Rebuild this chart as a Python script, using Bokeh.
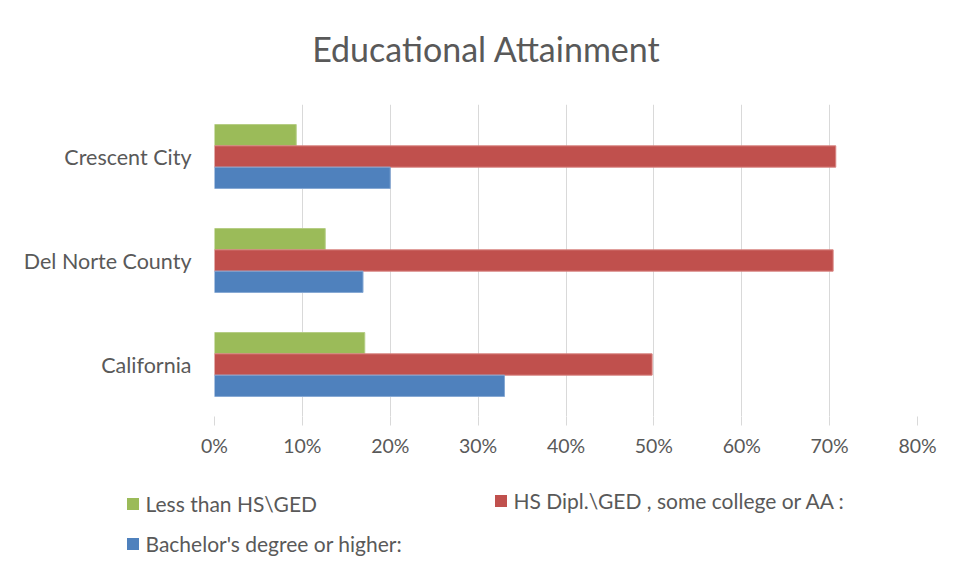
from bokeh.plotting import figure
from bokeh.models import (ColumnDataSource, FactorRange, Range1d, FixedTicker,
                          NumeralTickFormatter, Legend, LegendItem, Label)
from bokeh.layouts import column
from bokeh.transform import dodge
from bokeh.embed import file_html
from bokeh.resources import INLINE

# ---- data ----
places = ["California", "Del Norte County", "Crescent City"]
less_than_hs = [0.171, 0.126, 0.093]
hs_some_college = [0.498, 0.704, 0.707]
bachelors = [0.330, 0.169, 0.200]
series_names = ["Less than HS\\GED",
                "HS Dipl.\\GED , some college or AA :",
                "Bachelor's degree or higher:"]
x_ticks = [0, 0.1, 0.2, 0.3, 0.4, 0.5, 0.6, 0.7, 0.8]
chart_title = "Educational Attainment"

GREEN = "#9BBB59"
RED = "#C0504D"
BLUE = "#4F81BD"
TXT = "#595959"
GRID = "#D9D9D9"
FONT = "Lato"

W = 953


def strip(height):
    s = figure(width=W, height=height, output_backend="svg", toolbar_location=None,
               x_range=Range1d(0, 1), y_range=Range1d(0, 1),
               x_axis_location=None, y_axis_location=None,
               min_border_left=0, min_border_right=0, min_border_top=0, min_border_bottom=0)
    s.frame_align = False
    s.outline_line_color = None
    s.grid.grid_line_color = None
    s.border_fill_color = "white"
    return s


# ---- title strip ----
ts = strip(104)
ts.add_layout(Label(x=486, y=56, x_units="screen", y_units="screen", text=chart_title,
                    text_font=FONT, text_font_size="34px", text_color=TXT,
                    text_align="center", text_baseline="middle"))

# ---- main chart ----
src = ColumnDataSource(dict(place=places, a=less_than_hs, b=hs_some_college, c=bachelors))

p = figure(width=W, height=366, output_backend="svg", toolbar_location=None,
           y_range=FactorRange(factors=places, range_padding=0),
           x_range=Range1d(0, 0.8),
           min_border_left=214, min_border_right=36, min_border_top=0, min_border_bottom=54)
p.frame_align = False
p.outline_line_color = None
p.background_fill_color = "white"
p.border_fill_color = "white"

bh = 0.205
r_a = p.hbar(y=dodge("place", bh, range=p.y_range), right="a", left=0, height=bh,
             source=src, fill_color=GREEN, line_color="#B5CD85", line_width=1)
r_b = p.hbar(y=dodge("place", 0, range=p.y_range), right="b", left=0, height=bh,
             source=src, fill_color=RED, line_color="#D88582", line_width=1)
r_c = p.hbar(y=dodge("place", -bh, range=p.y_range), right="c", left=0, height=bh,
             source=src, fill_color=BLUE, line_color="#86A8D4", line_width=1)

p.xaxis.ticker = FixedTicker(ticks=x_ticks)
p.xaxis.formatter = NumeralTickFormatter(format="0%")
p.xaxis.axis_line_color = None
p.xaxis.major_tick_line_color = GRID
p.xaxis.major_tick_out = 9
p.xaxis.major_tick_in = 0
p.xaxis.minor_tick_line_color = None
p.xaxis.major_label_text_font = FONT
p.xaxis.major_label_text_font_size = "19.5px"
p.xaxis.major_label_text_color = TXT
p.xaxis.major_label_standoff = 8

p.yaxis.axis_line_color = None
p.yaxis.major_tick_line_color = None
p.yaxis.minor_tick_line_color = None
p.yaxis.major_label_text_font = FONT
p.yaxis.major_label_text_font_size = "21.5px"
p.yaxis.major_label_text_color = TXT
p.yaxis.major_label_standoff = 17

p.xgrid.grid_line_color = GRID
p.xgrid.ticker = FixedTicker(ticks=x_ticks)
p.ygrid.grid_line_color = None

# ---- legend strip below the chart ----
lf = strip(95)

# legend swatches (off-range placeholders, only their legend glyphs are visible)
d_a = lf.hbar(y=[-5], right=[0], left=[0], height=0.1, fill_color=GREEN, line_color=None)
d_b = lf.hbar(y=[-5], right=[0], left=[0], height=0.1, fill_color=RED, line_color=None)
d_c = lf.hbar(y=[-5], right=[0], left=[0], height=0.1, fill_color=BLUE, line_color=None)


def mk_legend(items, loc):
    return Legend(items=items, location=loc, orientation="vertical",
                  glyph_width=15, glyph_height=15, label_height=15,
                  label_standoff=6, spacing=15, padding=0, margin=0,
                  border_line_color=None, background_fill_alpha=0,
                  label_text_font=FONT, label_text_font_size="21px",
                  label_text_color=TXT)


lf.add_layout(mk_legend([LegendItem(label=series_names[0], renderers=[d_a]),
                         LegendItem(label=series_names[2], renderers=[d_c])], (124.5, 9.5)))
lf.add_layout(mk_legend([LegendItem(label=series_names[1], renderers=[d_b])], (492.5, 52.5)))

layout = column(ts, p, lf)
open("out.html", "w").write(file_html(layout, INLINE))
